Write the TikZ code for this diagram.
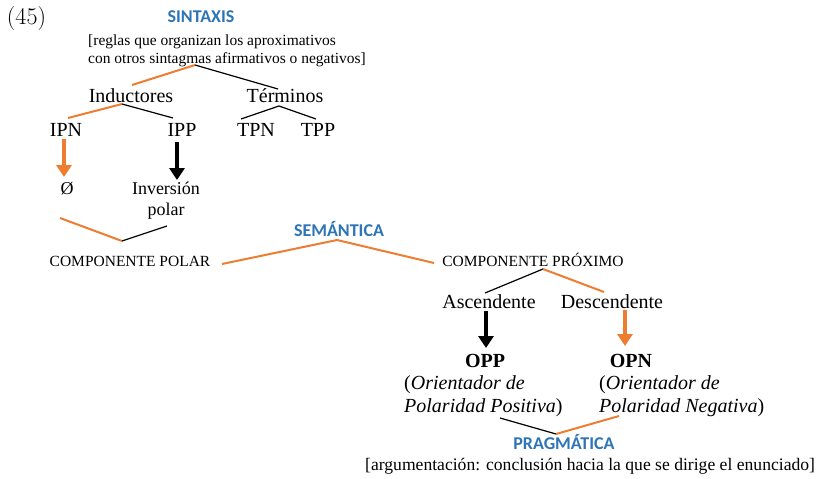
\documentclass[tikz,border=0pt]{standalone}
\usepackage{fontspec}
\setmainfont{Liberation Serif}
\newfontfamily\lmfont{Latin Modern Roman}
\newfontfamily\carlitofont{Carlito}
\usetikzlibrary{arrows.meta}
\definecolor{orng}{RGB}{237,125,49}
\definecolor{blu}{RGB}{46,117,182}
\tikzset{
  big/.style={font=\fontsize{20}{24}\selectfont, inner sep=0pt, anchor=base},
  mid/.style={font=\fontsize{18}{22}\selectfont, inner sep=0pt, anchor=base},
  small/.style={font=\fontsize{15.5}{18}\selectfont, inner sep=0pt, anchor=base},
  head/.style={font=\carlitofont\bfseries\fontsize{18}{20}\selectfont, text=blu, inner sep=0pt, anchor=base},
  bl/.style={draw=black, line width=1.2pt},
  ol/.style={draw=orng, line width=2pt},
  thickarrow/.style={line width=4.6pt, -{Triangle[width=15pt,length=12pt]}},
}
\begin{document}
\begin{tikzpicture}[x=1pt,y=-1pt]
\useasboundingbox (0,0) rectangle (822,479);
\fill[white] (0,0) rectangle (822,479);
% texts
\node[big, font=\lmfont\fontsize{24}{26}\selectfont] (n45) at (26.5,24) {(45)};
\node[head] (sint) at (201,23) {SINTAXIS};
\node[small, anchor=base west] (reg1) at (88,45) {[reglas que organizan los aproximativos};
\node[small, anchor=base west] (reg2) at (88,63) {con otros sintagmas afirmativos o negativos]};
\node[big] (ind) at (131,102) {Inductores};
\node[big] (ter) at (285,102) {Términos};
\node[big] (ipn) at (66,136) {IPN};
\node[big] (ipp) at (182,136) {IPP};
\node[big] (tpn) at (256,136) {TPN};
\node[big] (tpp) at (318,136) {TPP};
\node[mid] (zero) at (67,194) {Ø};
\node[mid] (inv1) at (166,194) {Inversión};
\node[mid] (inv2) at (166,215) {polar};
\node[small] (cpol) at (130,266) {COMPONENTE POLAR};
\node[head] (sem) at (339,236) {SEMÁNTICA};
\node[small] (cprox) at (533,266) {COMPONENTE PRÓXIMO};
\node[big] (asc) at (489,308) {Ascendente};
\node[big] (desc) at (612,308) {Descendente};
\node[big, font=\bfseries\fontsize{20}{24}\selectfont] (opp) at (485,367) {OPP};
\node[big, font=\bfseries\fontsize{20}{24}\selectfont] (opn) at (631,367) {OPN};
\node[big, anchor=base west] (opp1) at (404,389) {(\textit{Orientador de}};
\node[big, anchor=base west] (opp2) at (404,412) {\textit{Polaridad Positiva})};
\node[big, anchor=base west] (opn1) at (599,389) {(\textit{Orientador de}};
\node[big, anchor=base west] (opn2) at (599,412) {\textit{Polaridad Negativa})};
\node[head] (prag) at (564,449) {PRAGMÁTICA};
\node[small, font=\fontsize{17.6}{20}\selectfont, anchor=base west] (arg) at (365,470) {[argumentación: conclusión hacia la que se dirige el enunciado]};
% connector end points
\coordinate (aS) at (195,65);
\coordinate (indT) at (132,85);
\coordinate (terT) at (278,89);
\coordinate (aI) at (122,104);
\coordinate (ipnT) at (68,118);
\coordinate (ippT) at (173,118);
\coordinate (aT) at (279,106);
\coordinate (tpnT) at (241,119);
\coordinate (tppT) at (316,119);
\coordinate (ipnB) at (64,139);
\coordinate (zeroT) at (64,177);
\coordinate (ippB) at (177,142);
\coordinate (invT) at (177,180);
\coordinate (zeroB) at (60,218);
\coordinate (aP) at (122,241);
\coordinate (invB) at (167,226);
\coordinate (cpolE) at (222,264);
\coordinate (aM) at (337,240);
\coordinate (cproxW) at (434,263);
\coordinate (aX) at (543,269);
\coordinate (ascT) at (485,293);
\coordinate (descT) at (604,292);
\coordinate (ascB) at (486,311);
\coordinate (oppT) at (486,348);
\coordinate (descB) at (625,310);
\coordinate (opnT) at (625,346);
\coordinate (oppB) at (500,418);
\coordinate (aG) at (556,434);
\coordinate (opnB) at (619,416);
% syntax tree
\draw[ol] (aS) -- (indT);
\draw[bl] (aS) -- (terT);
\draw[ol] (aI) -- (ipnT);
\draw[bl] (aI) -- (ippT);
\draw[bl] (aT) -- (tpnT);
\draw[bl] (aT) -- (tppT);
\draw[thickarrow, orng] (ipnB) -- (zeroT);
\draw[thickarrow, black] (ippB) -- (invT);
% polar
\draw[ol] (zeroB) -- (aP);
\draw[bl] (aP) -- (invB);
% semantic
\draw[ol] (cpolE) -- (aM) -- (cproxW);
\draw[bl] (aX) -- (ascT);
\draw[ol] (aX) -- (descT);
\draw[thickarrow, black] (ascB) -- (oppT);
\draw[thickarrow, orng] (descB) -- (opnT);
% pragmatic
\draw[bl] (oppB) -- (aG);
\draw[ol] (aG) -- (opnB);
\end{tikzpicture}
\end{document}
